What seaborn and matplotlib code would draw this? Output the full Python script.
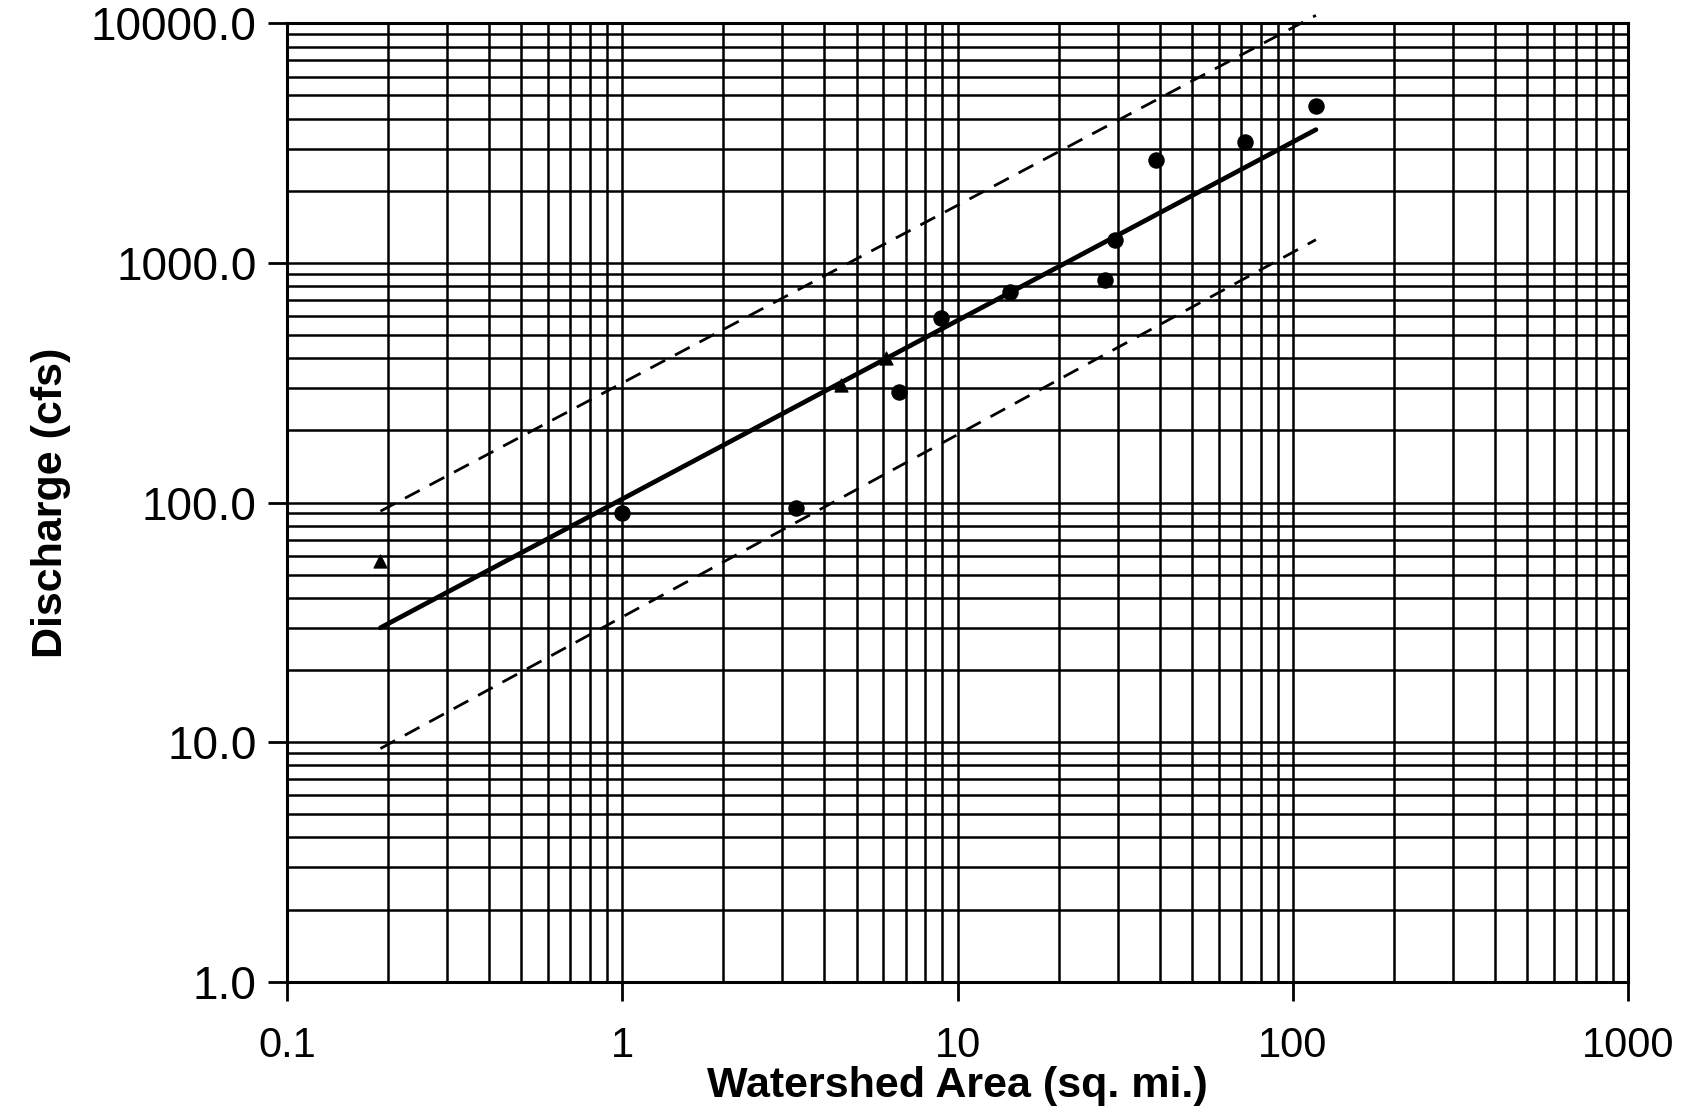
import pandas as pd
import numpy as np
import seaborn as sns
import matplotlib.pyplot as plt
from matplotlib.ticker import LogLocator, NullFormatter, FixedLocator, FixedFormatter

# Observed gages (circles) and other sites (triangles)
circle_area = [1.0, 3.3, 6.7, 8.9, 14.3, 27.5, 29.5, 39, 72, 117]
circle_q = [90, 95, 290, 590, 760, 850, 1250, 2700, 3200, 4500]
tri_area = [0.19, 4.5, 6.1]
tri_q = [57, 310, 400]

# Regression line and the two bounding lines (end points)
fit_area = [0.19, 117]
fit_q = [30, 3600]
upper_q = [92, 10800]
lower_q = [9.4, 1250]

x_ticks = [0.1, 1, 10, 100, 1000]
x_labels = ["0.1", "1", "10", "100", "1000"]
y_ticks = [1, 10, 100, 1000, 10000]
y_labels = ["1.0", "10.0", "100.0", "1000.0", "10000.0"]

sns.set_style("white")
plt.rcParams["font.family"] = ["Liberation Sans", "DejaVu Sans"]
plt.rcParams["text.color"] = "black"
plt.rcParams["axes.labelcolor"] = "black"
plt.rcParams["xtick.color"] = "black"
plt.rcParams["ytick.color"] = "black"

fig = plt.figure(figsize=(16.98, 11.13), dpi=100)
ax = fig.add_axes([0.169, 0.118, 0.79, 0.861])

pts = pd.DataFrame({"area": circle_area, "q": circle_q})
tri = pd.DataFrame({"area": tri_area, "q": tri_q})
lines = pd.DataFrame({"area": fit_area, "fit": fit_q, "upper": upper_q, "lower": lower_q})

ax.set_xscale("log")
ax.set_yscale("log")

sns.lineplot(data=lines, x="area", y="fit", color="black", lw=3.4, ax=ax)
sns.lineplot(data=lines, x="area", y="upper", color="black", lw=2, ax=ax)
ax.lines[-1].set_dashes((6, 4))
ax.lines[-1].set_clip_on(False)
sns.lineplot(data=lines, x="area", y="lower", color="black", lw=2, ax=ax)
ax.lines[-1].set_dashes((6, 4))
sns.scatterplot(data=pts, x="area", y="q", color="black", s=120, marker="o",
                edgecolor="black", zorder=5, ax=ax)
sns.scatterplot(data=tri, x="area", y="q", color="black", s=90, marker="^",
                edgecolor="black", zorder=5, ax=ax)

ax.set_xlim(0.1, 1000)
ax.set_ylim(1, 10000)

# grid paper
ax.xaxis.set_minor_locator(LogLocator(base=10, subs=np.arange(2, 10)))
ax.yaxis.set_minor_locator(LogLocator(base=10, subs=np.arange(2, 10)))
ax.xaxis.set_minor_formatter(NullFormatter())
ax.yaxis.set_minor_formatter(NullFormatter())
ax.grid(which="both", color="black", lw=1.8)
ax.tick_params(which="minor", length=0)

ax.xaxis.set_major_locator(FixedLocator(x_ticks))
ax.xaxis.set_major_formatter(FixedFormatter(x_labels))
ax.yaxis.set_major_locator(FixedLocator(y_ticks))
ax.yaxis.set_major_formatter(FixedFormatter(y_labels))
ax.tick_params(which="major", direction="out", length=14, width=2, color="black",
               bottom=True, left=True)
ax.tick_params(axis="x", pad=18, labelsize=30)
ax.tick_params(axis="y", pad=8, labelsize=33)

for sp in ax.spines.values():
    sp.set_color("black")
    sp.set_linewidth(2.2)

ax.set_xlabel("Watershed Area (sq. mi.)", fontsize=31, fontweight="bold",
              labelpad=0)
ax.set_ylabel("Discharge (cfs)", fontsize=31, fontweight="bold", labelpad=14)

plt.savefig("out.png", dpi=100)
